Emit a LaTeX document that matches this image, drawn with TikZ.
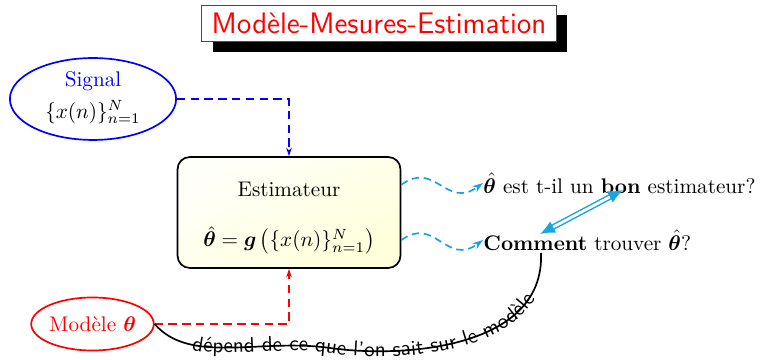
\documentclass[tikz,border=0pt]{standalone}
\usepackage{amsmath,bm}
\usepackage{xcolor}
\usepackage{tikz}
\usetikzlibrary{positioning,arrows.meta,shapes.geometric,shadows,decorations.text}
\definecolor{skyc}{RGB}{25,165,225}

\begin{document}
\begin{tikzpicture}[x=0.0166cm,y=0.0166cm,
            titlebox/.style={rectangle,draw=black!70,fill=white,minimum width=5.88cm,minimum height=0.61cm,font=\sffamily\fontsize{14}{16}\selectfont,text=red,drop shadow={shadow xshift=0.18cm,shadow yshift=-0.17cm,opacity=1,fill=black}},
            inell/.style={ellipse,thick,inner sep=0pt,align=center},
            estbox/.style={rectangle,rounded corners=0.2cm,draw,thick,minimum width=3.7cm,minimum height=1.84cm,align=center,top color=yellow!2,bottom color=yellow!14,shading angle=30},
            question/.style={anchor=west,inner sep=0pt},
            dasharrow/.style={thick,dash pattern=on 4pt off 2.5pt,-{Stealth[length=4pt,width=2.6pt]}},
            wavearrow/.style={thick,skyc,dash pattern=on 3.5pt off 2.2pt,-{Stealth[length=5pt,width=3.4pt]}}]
            \useasboundingbox (0,0) rectangle (764,360);
            \node[titlebox] (title) at (379,336.5) {Modèle-Mesures-Estimation};
            \node[inell,draw=blue,minimum width=2.76cm,minimum height=1.36cm] (sig) at (93,261) {\textcolor{blue}{Signal}\\[3pt]$\{x(n)\}_{n=1}^N$\rule[-4pt]{0pt}{0pt}};
            \node[inell,draw=red,text=red,minimum width=1.84cm,minimum height=0.88cm] (mod) at (92.5,36) {Modèle $\bm{\theta}$};
            \node[estbox] (est) at (289,147.5) {\rule{0pt}{12pt}Estimateur\\[12pt]$\hat{\bm{\theta}}=\bm{g}\left(\{x(n)\}_{n=1}^N\right)$};
            \node[question] (q1) at (483,177) {$\hat{\bm{\theta}}$ est t-il un \textbf{bon} estimateur?};
            \node[question] (q2) at (483,120) {\textbf{Comment} trouver $\hat{\bm{\theta}}$?};
            \coordinate (bonpt) at (623,170);
            \coordinate (compt) at (540,126);
            \coordinate (combot) at (541,107);
            % entrees de l'estimateur
            \draw[dasharrow,blue] (sig.east) -| (est.north);
            \draw[dasharrow,red] (mod.east) -| (est.south);
            % questions
            \draw[wavearrow] ([yshift=0.46cm]est.east) .. controls +(34,25) and +(-37,-27) .. (q1.west);
            \draw[wavearrow] ([yshift=-0.46cm]est.east) .. controls +(34,25) and +(-37,-27) .. (q2.west);
            \draw[skyc,line width=0.7pt,double,double distance=1.3pt,{Latex[length=7pt,width=6pt]}-{Latex[length=7pt,width=6pt]}] (bonpt) -- (compt);
            \draw[thick,postaction={decorate},decoration={text along path,text align=center,raise=-2.5pt,
                text={|\sffamily|dépend de ce que l'on sait sur le modèle}}]
                (mod.east) .. controls (190,-5) and (260,22) .. (330,12)
                .. controls (400,2) and (545,10) .. (combot);
        \end{tikzpicture}
\end{document}
